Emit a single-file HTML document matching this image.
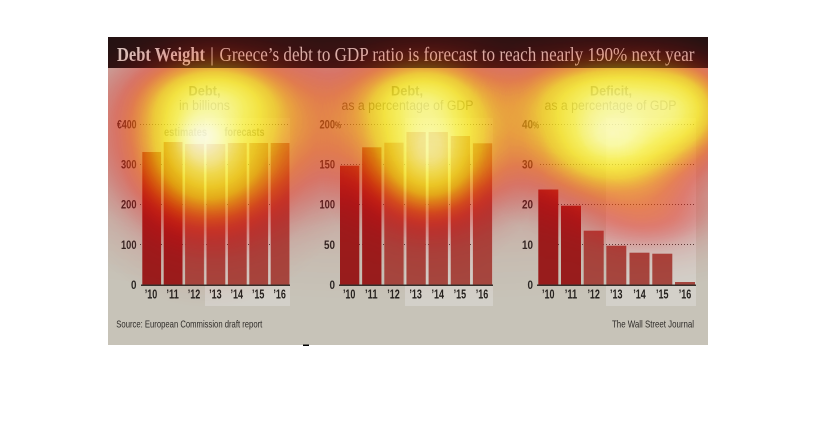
<!DOCTYPE html>
<html><head><meta charset="utf-8"><style>html,body{margin:0;padding:0;background:#fff}svg{display:block}</style></head>
<body>
<svg width="816" height="440" viewBox="0 0 816 440" xmlns="http://www.w3.org/2000/svg">
<defs>
  <radialGradient id="gs">
    <stop offset="0" stop-color="#000" stop-opacity="1"/>
    <stop offset="0.1" stop-color="#000" stop-opacity="0.956"/>
    <stop offset="0.2" stop-color="#000" stop-opacity="0.835"/>
    <stop offset="0.3" stop-color="#000" stop-opacity="0.667"/>
    <stop offset="0.4" stop-color="#000" stop-opacity="0.487"/>
    <stop offset="0.5" stop-color="#000" stop-opacity="0.325"/>
    <stop offset="0.6" stop-color="#000" stop-opacity="0.198"/>
    <stop offset="0.7" stop-color="#000" stop-opacity="0.110"/>
    <stop offset="0.8" stop-color="#000" stop-opacity="0.056"/>
    <stop offset="0.9" stop-color="#000" stop-opacity="0.026"/>
    <stop offset="1" stop-color="#000" stop-opacity="0"/>
  </radialGradient>
  <filter id="heat" filterUnits="userSpaceOnUse" x="0" y="0" width="816" height="440" color-interpolation-filters="sRGB">
    <feColorMatrix in="SourceGraphic" type="matrix" values="0 0 0 1 0  0 0 0 1 0  0 0 0 1 0  0 0 0 1 0" result="d"/>
    <feComponentTransfer in="d">
      <feFuncR type="table" tableValues="0.80 0.85 0.88 0.92 0.95 0.97 0.98 1 1 1 1"/>
      <feFuncG type="table" tableValues="0 0 0.03 0.12 0.30 0.55 0.80 0.92 0.97 1 1"/>
      <feFuncB type="table" tableValues="0 0.05 0.05 0.05 0.03 0.03 0.05 0.12 0.30 0.60 0.88"/>
      <feFuncA type="table" tableValues="0 0.12 0.30 0.48 0.60 0.68 0.74 0.78 0.82 0.86 0.90"/>
    </feComponentTransfer>
  </filter>
  <clipPath id="imgclip"><rect x="108" y="37" width="600" height="308"/></clipPath>
  <mask id="titlemask" maskUnits="userSpaceOnUse" x="0" y="0" width="816" height="440">
    <rect x="0" y="68" width="816" height="372" fill="#fff"/>
    <rect x="0" y="0" width="816" height="68" fill="#fff" fill-opacity="0.55"/>
  </mask>
</defs>

<rect width="816" height="440" fill="#ffffff"/>
<!-- base graphic -->
<rect x="108" y="37" width="600" height="308" fill="#c7c3b8"/>
<rect x="108" y="37" width="600" height="31" fill="#1b1413"/>

<g font-family="'Liberation Serif', serif" font-size="20" fill="#d9d0c9">
  <text x="117" y="61" font-weight="bold" textLength="88" lengthAdjust="spacingAndGlyphs">Debt Weight</text>
  <text x="210" y="61">|</text>
  <text x="219.5" y="61" textLength="475" lengthAdjust="spacingAndGlyphs">Greece’s debt to GDP ratio is forecast to reach nearly 190% next year</text>
</g>

<!-- shaded forecast areas -->
<rect x="205" y="118" width="85" height="188" fill="#d3d0c9"/>
<rect x="405" y="118" width="88" height="188" fill="#d3d0c9"/>
<rect x="606" y="118" width="90" height="188" fill="#d3d0c9"/>

<!-- chart titles -->
<g font-family="'Liberation Sans', sans-serif" font-size="13.5" fill="#4a4338" text-anchor="middle">
  <text x="204.5" y="95.5" font-weight="bold" textLength="32" lengthAdjust="spacingAndGlyphs">Debt,</text>
  <text x="204.5" y="110" textLength="51" lengthAdjust="spacingAndGlyphs">in billions</text>
  <text x="407" y="95.5" font-weight="bold" textLength="32" lengthAdjust="spacingAndGlyphs">Debt,</text>
  <text x="407.5" y="110" textLength="132" lengthAdjust="spacingAndGlyphs">as a percentage of GDP</text>
  <text x="611" y="95.5" font-weight="bold" textLength="42" lengthAdjust="spacingAndGlyphs">Deficit,</text>
  <text x="610.5" y="110" textLength="132" lengthAdjust="spacingAndGlyphs">as a percentage of GDP</text>
</g>
<g font-family="'Liberation Sans', sans-serif" font-size="11.5" font-weight="bold" fill="#5e5749">
  <text x="164" y="136" textLength="43" lengthAdjust="spacingAndGlyphs">estimates</text>
  <text x="224.5" y="136" textLength="40" lengthAdjust="spacingAndGlyphs">forecasts</text>
</g>

<!-- gridlines -->
<g stroke="#4a4540" stroke-width="1" stroke-dasharray="1 2">
  <line x1="140" y1="124.5" x2="290" y2="124.5"/>
  <line x1="140" y1="164.5" x2="290" y2="164.5"/>
  <line x1="140" y1="204.5" x2="290" y2="204.5"/>
  <line x1="140" y1="244.5" x2="290" y2="244.5"/>
  <line x1="341" y1="124.5" x2="493" y2="124.5"/>
  <line x1="341" y1="164.5" x2="493" y2="164.5"/>
  <line x1="341" y1="204.5" x2="493" y2="204.5"/>
  <line x1="341" y1="244.5" x2="493" y2="244.5"/>
  <line x1="540" y1="124.5" x2="696" y2="124.5"/>
  <line x1="540" y1="164.5" x2="696" y2="164.5"/>
  <line x1="540" y1="204.5" x2="696" y2="204.5"/>
  <line x1="540" y1="244.5" x2="696" y2="244.5"/>
</g>

<!-- bars chart 1 -->
<g>
  <rect x="142.3" y="152" width="18.8" height="133" fill="#981d1d"/>
  <rect x="163.7" y="142" width="18.8" height="143" fill="#981d1d"/>
  <rect x="185.1" y="144" width="18.8" height="141" fill="#a5473f"/>
  <rect x="206.5" y="144" width="18.8" height="141" fill="#a5473f"/>
  <rect x="227.9" y="143" width="18.8" height="142" fill="#a5473f"/>
  <rect x="249.3" y="143" width="18.8" height="142" fill="#a5473f"/>
  <rect x="270.7" y="143" width="18.8" height="142" fill="#a5473f"/>
</g>
<!-- bars chart 2 -->
<g>
  <rect x="340" y="165.7" width="19.3" height="119.3" fill="#981d1d"/>
  <rect x="362.15" y="147.3" width="19.3" height="137.7" fill="#981d1d"/>
  <rect x="384.3" y="142.7" width="19.3" height="142.3" fill="#a5473f"/>
  <rect x="406.45" y="132" width="19.3" height="153" fill="#a5473f"/>
  <rect x="428.6" y="132" width="19.3" height="153" fill="#a5473f"/>
  <rect x="450.75" y="136" width="19.3" height="149" fill="#a5473f"/>
  <rect x="472.9" y="143.3" width="19.3" height="141.7" fill="#a5473f"/>
</g>
<!-- bars chart 3 -->
<g>
  <rect x="538.3" y="189.5" width="20" height="95.5" fill="#981d1d"/>
  <rect x="561" y="205.7" width="20" height="79.3" fill="#981d1d"/>
  <rect x="583.7" y="230.7" width="20" height="54.3" fill="#a5473f"/>
  <rect x="606.3" y="245.7" width="20" height="39.3" fill="#a5473f"/>
  <rect x="629.5" y="252.7" width="20" height="32.3" fill="#a5473f"/>
  <rect x="652.3" y="253.7" width="20" height="31.3" fill="#a5473f"/>
  <rect x="675" y="282" width="20" height="3" fill="#a5473f"/>
</g>

<!-- axes -->
<g stroke="#34302c" stroke-width="1.5">
  <line x1="141" y1="285.3" x2="290" y2="285.3"/>
  <line x1="339" y1="285.3" x2="493" y2="285.3"/>
  <line x1="537" y1="285.3" x2="696" y2="285.3"/>
</g>

<!-- y labels -->
<g font-family="'Liberation Sans', sans-serif" font-size="12" font-weight="bold" fill="#2b2826" text-anchor="end">
  <text x="136.5" y="128.5" textLength="19.5" lengthAdjust="spacingAndGlyphs">€400</text>
  <text x="136.5" y="168.5" textLength="15.5" lengthAdjust="spacingAndGlyphs">300</text>
  <text x="136.5" y="208.7" textLength="15.5" lengthAdjust="spacingAndGlyphs">200</text>
  <text x="136.5" y="249" textLength="15.5" lengthAdjust="spacingAndGlyphs">100</text>
  <text x="136.5" y="289.2" textLength="5.5" lengthAdjust="spacingAndGlyphs">0</text>

  <text x="335" y="128.5" textLength="15.5" lengthAdjust="spacingAndGlyphs">200</text>
  <text x="335" y="168.5" textLength="15.5" lengthAdjust="spacingAndGlyphs">150</text>
  <text x="335" y="208.7" textLength="15.5" lengthAdjust="spacingAndGlyphs">100</text>
  <text x="335" y="249" textLength="11" lengthAdjust="spacingAndGlyphs">50</text>
  <text x="335" y="289.2" textLength="5.5" lengthAdjust="spacingAndGlyphs">0</text>

  <text x="533" y="128.5" textLength="11" lengthAdjust="spacingAndGlyphs">40</text>
  <text x="533" y="168.5" textLength="11" lengthAdjust="spacingAndGlyphs">30</text>
  <text x="533" y="208.7" textLength="11" lengthAdjust="spacingAndGlyphs">20</text>
  <text x="533" y="249" textLength="11" lengthAdjust="spacingAndGlyphs">10</text>
  <text x="533" y="289.2" textLength="5.5" lengthAdjust="spacingAndGlyphs">0</text>
</g>
<g font-family="'Liberation Sans', sans-serif" font-size="10.5" font-weight="bold" fill="#2b2826">
  <text x="335" y="128.5" textLength="6" lengthAdjust="spacingAndGlyphs">%</text>
  <text x="533" y="128.5" textLength="6" lengthAdjust="spacingAndGlyphs">%</text>
</g>

<!-- x labels -->
<g font-family="'Liberation Sans', sans-serif" font-size="12.5" font-weight="bold" fill="#262320" text-anchor="middle">
  <text x="151" y="298.5" textLength="12.5" lengthAdjust="spacingAndGlyphs">’10</text>
  <text x="172.6" y="298.5" textLength="12.5" lengthAdjust="spacingAndGlyphs">’11</text>
  <text x="194" y="298.5" textLength="12.5" lengthAdjust="spacingAndGlyphs">’12</text>
  <text x="215.4" y="298.5" textLength="12.5" lengthAdjust="spacingAndGlyphs">’13</text>
  <text x="236.8" y="298.5" textLength="12.5" lengthAdjust="spacingAndGlyphs">’14</text>
  <text x="258.2" y="298.5" textLength="12.5" lengthAdjust="spacingAndGlyphs">’15</text>
  <text x="279.6" y="298.5" textLength="12.5" lengthAdjust="spacingAndGlyphs">’16</text>

  <text x="349.2" y="298.5" textLength="12.5" lengthAdjust="spacingAndGlyphs">’10</text>
  <text x="371.3" y="298.5" textLength="12.5" lengthAdjust="spacingAndGlyphs">’11</text>
  <text x="393.5" y="298.5" textLength="12.5" lengthAdjust="spacingAndGlyphs">’12</text>
  <text x="415.6" y="298.5" textLength="12.5" lengthAdjust="spacingAndGlyphs">’13</text>
  <text x="437.8" y="298.5" textLength="12.5" lengthAdjust="spacingAndGlyphs">’14</text>
  <text x="459.9" y="298.5" textLength="12.5" lengthAdjust="spacingAndGlyphs">’15</text>
  <text x="482" y="298.5" textLength="12.5" lengthAdjust="spacingAndGlyphs">’16</text>

  <text x="548.3" y="298.5" textLength="12.5" lengthAdjust="spacingAndGlyphs">’10</text>
  <text x="571" y="298.5" textLength="12.5" lengthAdjust="spacingAndGlyphs">’11</text>
  <text x="593.7" y="298.5" textLength="12.5" lengthAdjust="spacingAndGlyphs">’12</text>
  <text x="616.3" y="298.5" textLength="12.5" lengthAdjust="spacingAndGlyphs">’13</text>
  <text x="639.5" y="298.5" textLength="12.5" lengthAdjust="spacingAndGlyphs">’14</text>
  <text x="662.3" y="298.5" textLength="12.5" lengthAdjust="spacingAndGlyphs">’15</text>
  <text x="685" y="298.5" textLength="12.5" lengthAdjust="spacingAndGlyphs">’16</text>
</g>

<!-- footer -->
<g font-family="'Liberation Sans', sans-serif" font-size="10.5" fill="#2e2b28">
  <text x="116.3" y="327.5" textLength="146" lengthAdjust="spacingAndGlyphs">Source: European Commission draft report</text>
  <text x="694" y="327.5" text-anchor="end" textLength="82" lengthAdjust="spacingAndGlyphs">The Wall Street Journal</text>
</g>

<!-- heatmap overlay -->
<g clip-path="url(#imgclip)">
  <g mask="url(#titlemask)">
    <g filter="url(#heat)">
      <ellipse cx="410" cy="122" rx="660" ry="180" fill="url(#gs)" fill-opacity="0.42"/>
      <ellipse cx="208" cy="148" rx="150" ry="160" fill="url(#gs)" fill-opacity="0.85"/>
      <ellipse cx="215" cy="100" rx="120" ry="66" fill="url(#gs)" fill-opacity="0.6"/>
      <ellipse cx="203" cy="137" rx="45" ry="45" fill="url(#gs)" fill-opacity="1"/>
      <ellipse cx="430" cy="148" rx="114" ry="135" fill="url(#gs)" fill-opacity="0.85"/>
      <ellipse cx="420" cy="100" rx="105" ry="66" fill="url(#gs)" fill-opacity="0.55"/>
      <ellipse cx="613" cy="133" rx="150" ry="120" fill="url(#gs)" fill-opacity="0.9"/>
      <ellipse cx="675" cy="110" rx="105" ry="90" fill="url(#gs)" fill-opacity="0.65"/>
      <ellipse cx="610" cy="95" rx="150" ry="66" fill="url(#gs)" fill-opacity="0.5"/>
      <ellipse cx="650" cy="215" rx="135" ry="75" fill="url(#gs)" fill-opacity="0.25"/>
    </g>
  </g>
</g>

<rect x="303" y="344.5" width="6" height="1.5" fill="#000"/>
</svg>
</body></html>
